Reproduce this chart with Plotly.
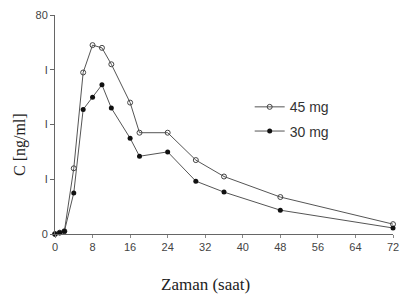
import plotly.graph_objects as go

time_h = [0, 1, 2, 4, 6, 8, 10, 12, 16, 18, 24, 30, 36, 48, 72]
conc_45mg = [0, 0.5, 1, 24, 59, 69, 68, 62, 48, 37, 37, 27, 21, 13.5, 3.6]
conc_30mg = [0, 0.5, 1, 15, 45.5, 50, 54.5, 46, 35, 28.4, 30, 19.3, 15.3, 8.7, 2.2]
x_ticks = [0, 8, 16, 24, 32, 40, 48, 56, 64, 72]
y_tickvals = [0, 20, 40, 60, 80]
y_ticktext = ["0", "I", "I", "I", "80"]

line_col = "#555555"

fig = go.Figure()
fig.add_trace(go.Scatter(
    x=time_h, y=conc_45mg, name="45 mg", mode="lines+markers", legendgroup="a",
    line=dict(color=line_col, width=1), cliponaxis=False,
    marker=dict(symbol="circle-open", size=5, color="#444444", line=dict(width=1)),
))
fig.add_trace(go.Scatter(
    x=time_h, y=conc_30mg, name="30 mg", mode="lines+markers", legendgroup="b",
    line=dict(color=line_col, width=1), cliponaxis=False,
    marker=dict(symbol="circle", size=5, color="#111111"),
))

serif = "Liberation Serif, Times New Roman"
sans = "Liberation Sans, Arial"

fig.update_layout(
    width=403, height=305,
    margin=dict(l=55, r=10, t=15, b=71, autoexpand=False),
    paper_bgcolor="white", plot_bgcolor="white",
    showlegend=True,
    legend=dict(x=0.576, y=0.524, xanchor="left", yanchor="middle",
                bgcolor="rgba(0,0,0,0)", itemwidth=30, traceorder="grouped",
                font=dict(family=sans, size=14, color="#333333"),
                tracegroupgap=3),
    xaxis=dict(
        range=[0, 72], tickvals=x_ticks, ticks="outside", ticklen=3,
        tickcolor="#888888", showline=True, linecolor="#666666", linewidth=1,
        showgrid=False, zeroline=False, automargin=False,
        ticklabeloverflow="allow",
        tickfont=dict(family=sans, size=11, color="#444444"),
    ),
    yaxis=dict(
        range=[0, 80], tickvals=y_tickvals, ticktext=y_ticktext, ticks="outside",
        ticklen=4, tickcolor="#666666", showline=True, linecolor="#666666",
        linewidth=1, showgrid=False, zeroline=False, automargin=False,
        tickfont=dict(family=sans, size=11, color="#444444"),
    ),
    annotations=[
        dict(text="Zaman (saat)", xref="paper", yref="paper", x=(205 - 55) / 338,
             y=(234 - 284) / 219, xanchor="center", yanchor="middle", showarrow=False,
             font=dict(family=serif, size=17, color="#222222")),
        dict(text="C [ng/ml]", xref="paper", yref="paper", x=(20 - 55) / 338,
             y=(234 - 145) / 219, xanchor="center", yanchor="middle", showarrow=False,
             textangle=-90, font=dict(family=serif, size=16, color="#222222")),
    ],
)

fig.write_html(
    "out.html",
    config={"displayModeBar": False},
    post_script="document.body.style.margin='0';document.body.style.overflow='hidden';",
)
